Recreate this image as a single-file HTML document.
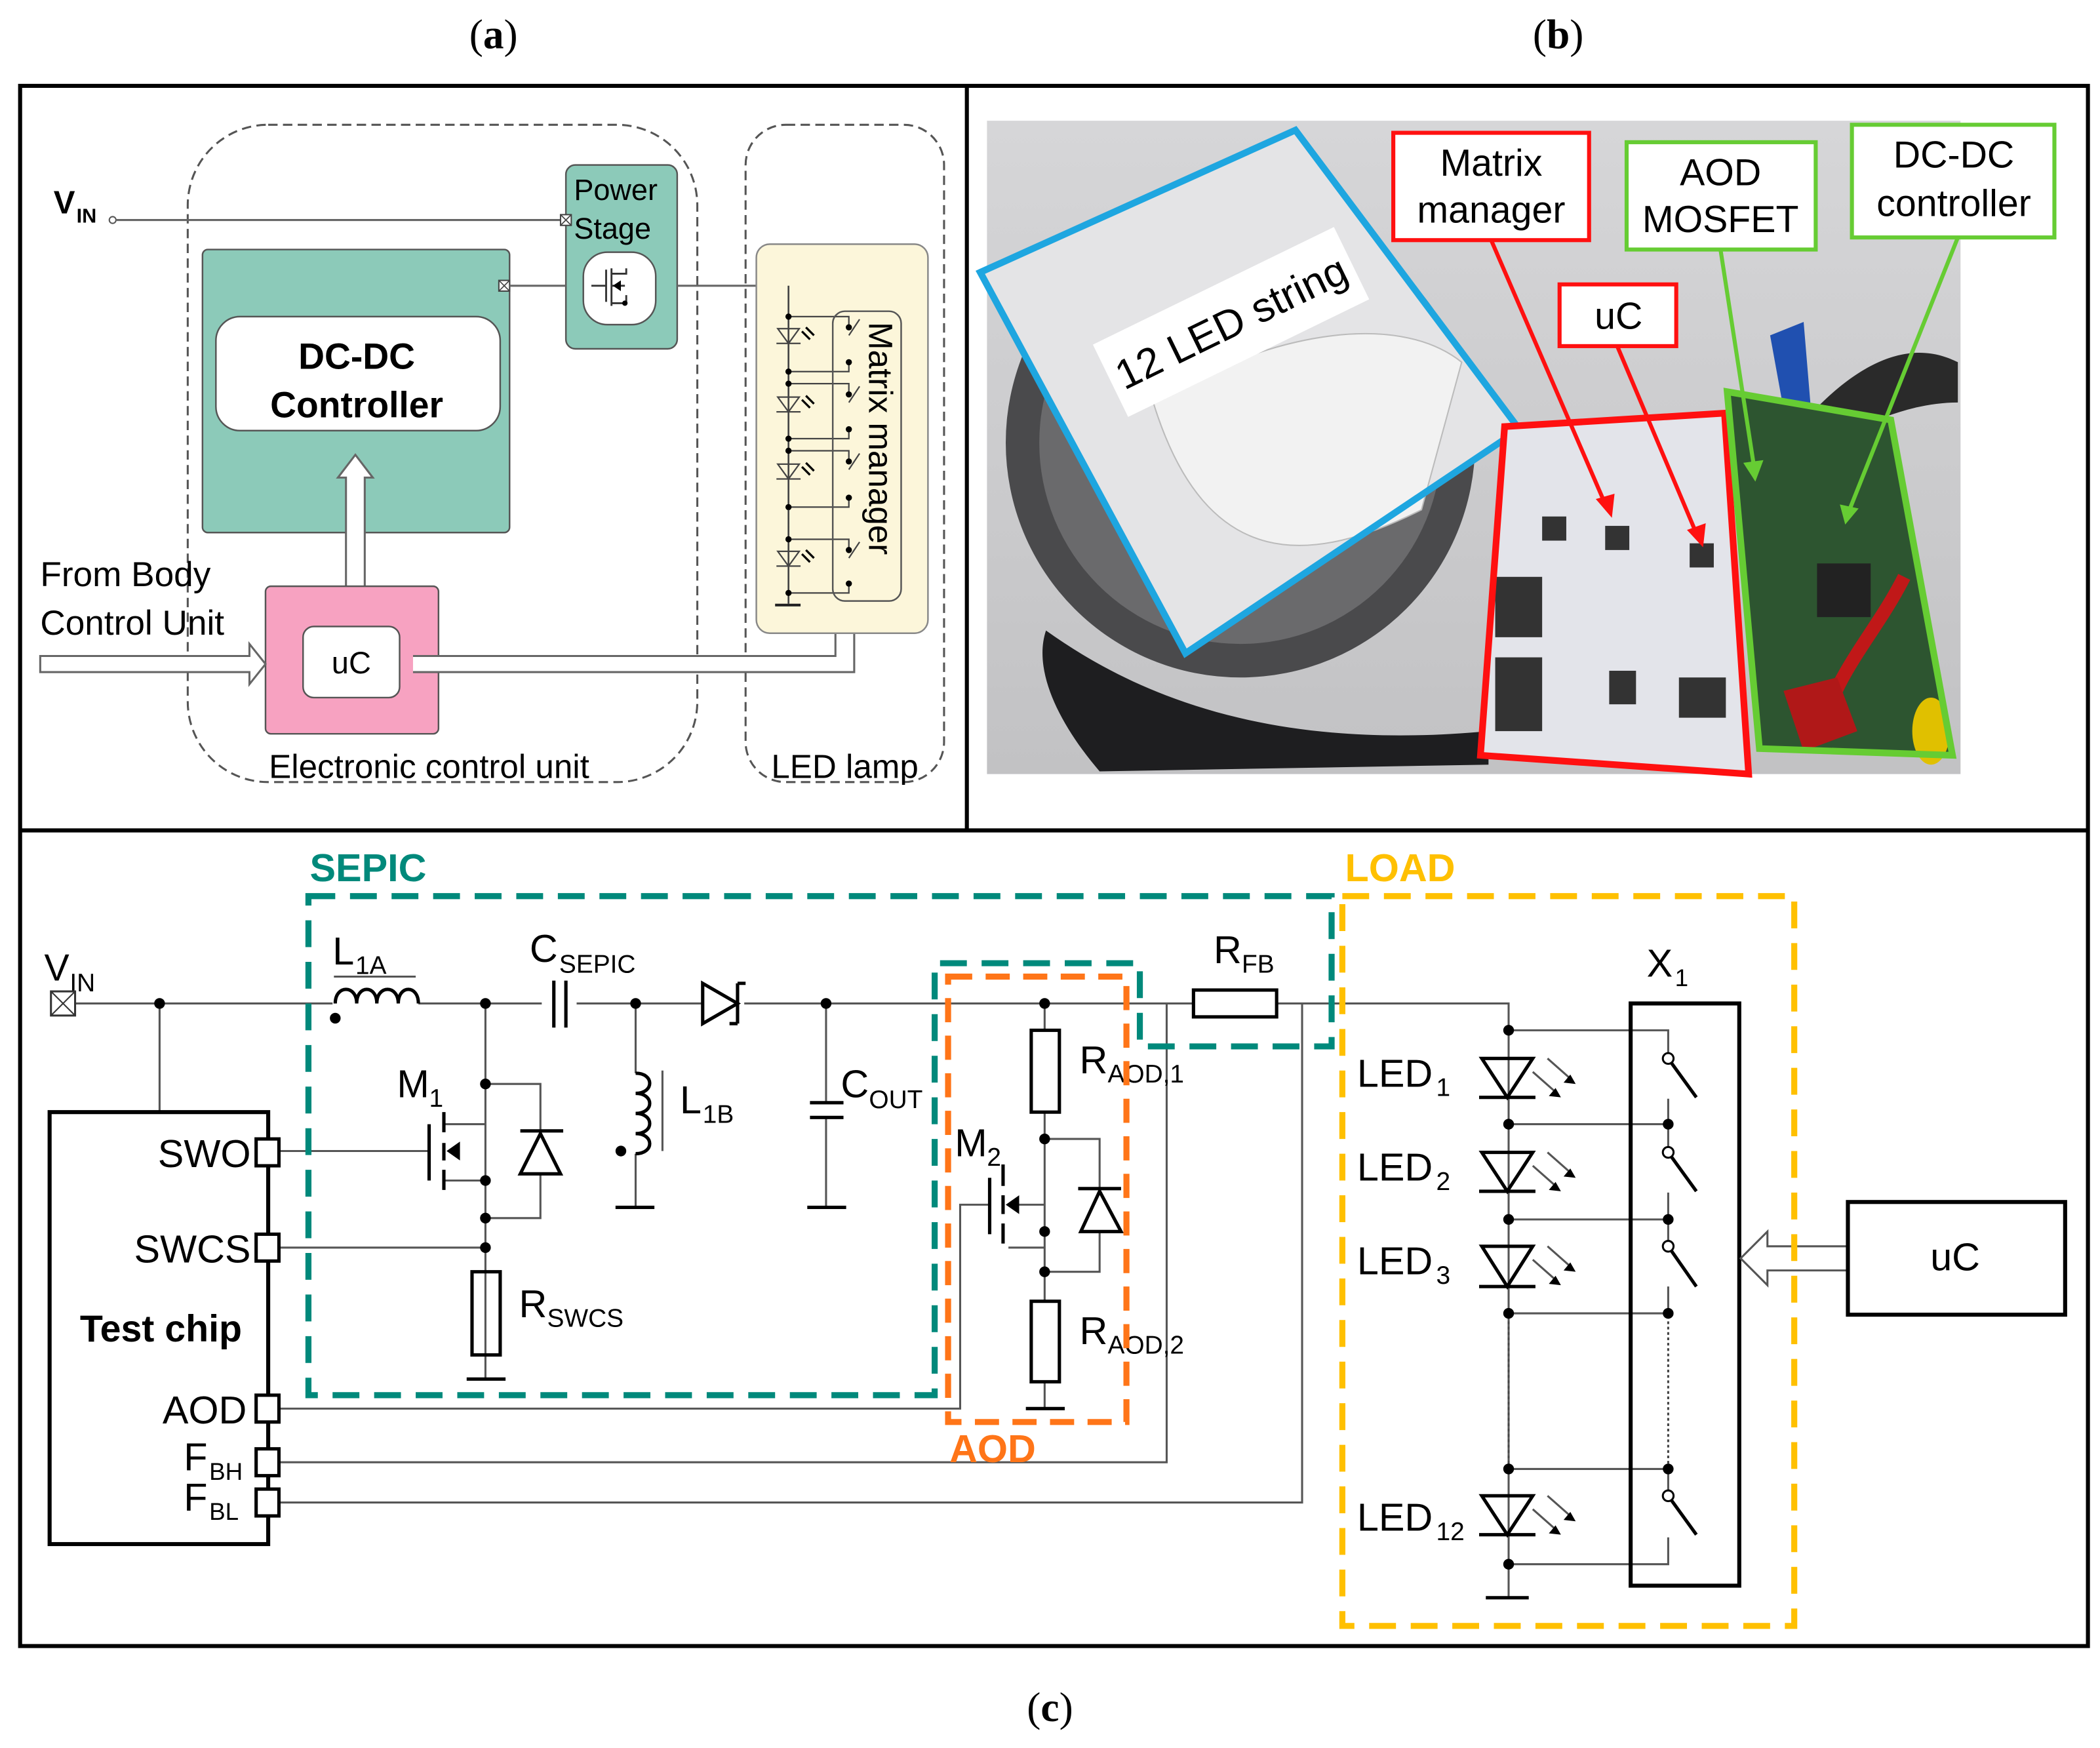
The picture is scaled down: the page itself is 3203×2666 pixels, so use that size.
<!DOCTYPE html>
<html><head><meta charset="utf-8">
<style>
html,body{margin:0;padding:0;background:#fff;}
svg{display:block;}
text{font-family:"Liberation Sans",sans-serif;}
.serif{font-family:"Liberation Serif",serif;}
</style></head>
<body>
<svg width="3203" height="2666" viewBox="0 0 1566 1303" preserveAspectRatio="none" xmlns="http://www.w3.org/2000/svg">
<defs>
<linearGradient id="bg" x1="0" y1="0" x2="0" y2="1"><stop offset="0" stop-color="#d6d6d8"/><stop offset="1" stop-color="#c2c2c4"/></linearGradient>
</defs>
<rect width="1566" height="1303" fill="#fff"/>
<text class="serif" x="368" y="36" font-size="31" text-anchor="middle">(<tspan font-weight="bold">a</tspan>)</text>
<text class="serif" x="1162" y="36" font-size="31" text-anchor="middle">(<tspan font-weight="bold">b</tspan>)</text>
<text class="serif" x="783" y="1283" font-size="31" text-anchor="middle">(<tspan font-weight="bold">c</tspan>)</text>
<rect x="15" y="64" width="1542" height="1163" fill="none" stroke="#000" stroke-width="3"/>
<line x1="15" y1="619" x2="1557" y2="619" stroke="#000" stroke-width="3"/>
<line x1="721" y1="64" x2="721" y2="619" stroke="#000" stroke-width="3"/>

<!-- ===== Panel (a) ===== -->
<rect x="140" y="93" width="380" height="490" rx="60" fill="none" stroke="#555" stroke-width="1.5" stroke-dasharray="7,4"/>
<rect x="556" y="93" width="148" height="490" rx="30" fill="none" stroke="#555" stroke-width="1.5" stroke-dasharray="7,4"/>
<text x="40" y="159" font-size="24" font-weight="bold">V</text>
<text x="57" y="166" font-size="15" font-weight="bold">IN</text>
<circle cx="84" cy="164" r="2.5" fill="#fff" stroke="#555"/>
<line x1="87" y1="164" x2="420" y2="164" stroke="#666" stroke-width="1.5"/>
<rect x="422" y="123" width="83" height="137" rx="7" fill="#8ccab9" stroke="#555" stroke-width="1.2"/>
<rect x="418" y="160" width="8" height="8" fill="#fff" stroke="#444"/>
<path d="M418,160l8,8M426,160l-8,8" stroke="#444" stroke-width="0.8"/>
<text x="428" y="149" font-size="22">Power</text>
<text x="428" y="178" font-size="22">Stage</text>
<rect x="435" y="188" width="54" height="54" rx="18" fill="#fff" stroke="#555" stroke-width="1.2"/>
<path d="M441,213h11M452,201v24M456,200v28M456,204h11v-4M456,213h10M456,226h11v-6" fill="none" stroke="#333" stroke-width="1.4"/>
<path d="M457,213l6,-4v8z" fill="#000"/>
<circle cx="466" cy="226" r="2" fill="#000"/>
<rect x="151" y="186" width="229" height="211" rx="4" fill="#8ccab9" stroke="#555" stroke-width="1.2"/>
<rect x="372" y="209" width="8" height="8" fill="#fff" stroke="#444"/>
<path d="M372,209l8,8M380,209l-8,8" stroke="#444" stroke-width="0.8"/>
<line x1="380" y1="213" x2="422" y2="213" stroke="#666" stroke-width="1.5"/>
<rect x="161" y="236" width="212" height="85" rx="18" fill="#fff" stroke="#555" stroke-width="1.2"/>
<text x="266" y="275" font-size="27" font-weight="bold" text-anchor="middle">DC-DC</text>
<text x="266" y="311" font-size="27" font-weight="bold" text-anchor="middle">Controller</text>
<line x1="505" y1="213" x2="588" y2="213" stroke="#666" stroke-width="1.5"/>
<path d="M258,437V356H252L265,339L278,356H272V437" fill="#fff" stroke="#666" stroke-width="1.5"/>
<rect x="198" y="437" width="129" height="110" rx="4" fill="#f7a2c1" stroke="#555" stroke-width="1.2"/>
<rect x="226" y="467" width="72" height="53" rx="8" fill="#fff" stroke="#555" stroke-width="1.2"/>
<text x="262" y="502" font-size="23" text-anchor="middle">uC</text>
<text x="30" y="437" font-size="26">From Body</text>
<text x="30" y="473" font-size="26">Control Unit</text>
<path d="M30,489H186V480L198,495L186,510V501H30Z" fill="#fff" stroke="#666" stroke-width="1.5"/>
<path d="M308,489H623V465H617L630,453L643,465H637V501H308" fill="#fff" stroke="#666" stroke-width="1.5"/>
<rect x="564" y="182" width="128" height="290" rx="10" fill="#fcf6da" stroke="#888" stroke-width="1.2"/>
<line x1="588" y1="213" x2="588" y2="450" stroke="#444" stroke-width="1.3"/>
<line x1="578" y1="451" x2="597" y2="451" stroke="#222" stroke-width="2"/>
<g stroke="#444" stroke-width="1.1" fill="none">
<path d="M580,245h16l-8,11z M579,256h18"/><path d="M580,296h16l-8,11z M579,307h18"/><path d="M580,346h16l-8,11z M579,357h18"/><path d="M580,411h16l-8,11z M579,422h18"/>
<path d="M598,247l6,6M601,244l6,6M598,298l6,6M601,295l6,6M598,348l6,6M601,345l6,6M598,413l6,6M601,410l6,6" stroke-width="1.6" stroke="#000"/>
<path d="M588,236H633v8M588,277H633v-7M588,286H633v8M588,327H633v-7M588,336H633v8M588,378H633v-7M588,402H633v8M588,442H633v-7"/>
<path d="M633,250l8,-12M633,300l8,-12M633,350l8,-12M633,416l8,-12"/>
</g>
<g fill="#000"><circle cx="588" cy="236" r="2.3"/><circle cx="588" cy="277" r="2.3"/><circle cx="588" cy="286" r="2.3"/><circle cx="588" cy="327" r="2.3"/><circle cx="588" cy="336" r="2.3"/><circle cx="588" cy="378" r="2.3"/><circle cx="588" cy="402" r="2.3"/><circle cx="588" cy="442" r="2.3"/>
<circle cx="633" cy="244" r="2.3"/><circle cx="633" cy="270" r="2.3"/><circle cx="633" cy="294" r="2.3"/><circle cx="633" cy="320" r="2.3"/><circle cx="633" cy="344" r="2.3"/><circle cx="633" cy="371" r="2.3"/><circle cx="633" cy="410" r="2.3"/><circle cx="633" cy="435" r="2.3"/></g>
<line x1="588" y1="380" x2="588" y2="400" stroke="#444" stroke-dasharray="1.5,1.5"/>
<rect x="621" y="232" width="51" height="216" rx="9" fill="none" stroke="#555" stroke-width="1.2"/>
<text transform="translate(648,240) rotate(90)" font-size="25">Matrix manager</text>
<text x="320" y="580" font-size="25" text-anchor="middle">Electronic control unit</text>
<text x="630" y="580" font-size="25" text-anchor="middle">LED lamp</text>

<!-- ===== Panel (b) photo ===== -->
<rect x="736" y="90" width="726" height="487" fill="url(#bg)"/>
<ellipse cx="925" cy="330" rx="175" ry="175" fill="#4a4a4c"/>
<ellipse cx="925" cy="330" rx="150" ry="150" fill="#6a6a6c"/>
<path d="M780,470C850,520 950,560 1110,545L1110,570L820,575C790,540 770,500 780,470Z" fill="#1e1e20"/>
<path d="M800,200C850,140 920,120 980,150" stroke="#e06020" stroke-width="8" fill="none"/>
<polygon points="731,203 966,97 1133,320 884,487" fill="#e4e4e6"/>
<path d="M860,300C940,250 1040,230 1090,270L1060,380C980,420 900,430 860,300Z" fill="#f2f2f2" stroke="#bbb"/>
<polygon points="731,203 966,97 1133,320 884,487" fill="none" stroke="#1ea6e0" stroke-width="5"/>
<g transform="translate(918,240) rotate(-26)"><rect x="-100" y="-30" width="200" height="60" fill="#fff"/><text x="0" y="11" font-size="31" text-anchor="middle">12 LED string</text></g>
<path d="M1340,320C1400,250 1440,260 1460,270L1460,300C1420,300 1380,320 1350,340Z" fill="#2a2a2a"/>
<path d="M1320,250L1345,240L1350,300L1330,305Z" fill="#2050b0"/>
<polygon points="1122,318 1286,308 1304,577 1104,563" fill="#e3e4ea"/>
<rect x="1115" y="430" width="35" height="45" fill="#333"/><rect x="1115" y="490" width="35" height="55" fill="#333"/>
<rect x="1150" y="385" width="18" height="18" fill="#333"/><rect x="1197" y="392" width="18" height="18" fill="#333"/><rect x="1260" y="405" width="18" height="18" fill="#333"/>
<rect x="1200" y="500" width="20" height="25" fill="#333"/><rect x="1252" y="505" width="35" height="30" fill="#333"/>
<polygon points="1122,318 1286,308 1304,577 1104,563" fill="none" stroke="#ff1010" stroke-width="5"/>
<polygon points="1288,292 1410,313 1456,563 1312,558" fill="#2d5530"/>
<rect x="1355" y="420" width="40" height="40" fill="#222"/>
<path d="M1420,430C1400,470 1370,500 1360,540" stroke="#c01818" stroke-width="10" fill="none"/>
<polygon points="1330,515 1370,505 1385,545 1345,560" fill="#b01818"/>
<ellipse cx="1440" cy="545" rx="14" ry="25" fill="#e0c000"/>
<polygon points="1288,292 1410,313 1456,563 1312,558" fill="none" stroke="#66cc33" stroke-width="5"/>
<rect x="1039" y="99" width="146" height="80" fill="#fff" stroke="#ff1010" stroke-width="3"/>
<text x="1112" y="131" font-size="28" text-anchor="middle">Matrix</text>
<text x="1112" y="166" font-size="28" text-anchor="middle">manager</text>
<rect x="1213" y="106" width="141" height="80" fill="#fff" stroke="#66cc33" stroke-width="3"/>
<text x="1283" y="138" font-size="28" text-anchor="middle">AOD</text>
<text x="1283" y="173" font-size="28" text-anchor="middle">MOSFET</text>
<rect x="1381" y="93" width="151" height="84" fill="#fff" stroke="#66cc33" stroke-width="3"/>
<text x="1457" y="125" font-size="28" text-anchor="middle">DC-DC</text>
<text x="1457" y="161" font-size="28" text-anchor="middle">controller</text>
<rect x="1163" y="212" width="87" height="46" fill="#fff" stroke="#ff1010" stroke-width="3"/>
<text x="1207" y="245" font-size="28" text-anchor="middle">uC</text>
<g stroke-width="3" fill="none">
<path d="M1112,179L1198,378" stroke="#ff1010"/><path d="M1206,258L1266,400" stroke="#ff1010"/>
<path d="M1283,186L1308,348" stroke="#66cc33"/><path d="M1460,177L1378,383" stroke="#66cc33"/>
</g>
<path d="M1190,372l12,14l2,-18z" fill="#ff1010"/><path d="M1258,395l12,13l2,-18z" fill="#ff1010"/>
<path d="M1300,345l9,14l6,-16z" fill="#66cc33"/><path d="M1372,376l4,15l10,-12z" fill="#66cc33"/>

<!-- ===== Panel (c) ===== -->
<g stroke="#555" stroke-width="1.5" fill="none">
<path d="M56,748H248M312,748H404M430,748H524M555,748H890M952,748H1125V1190"/>
<path d="M119,748V829"/>
<path d="M362,748V838H331M362,808H403V843M403,875V908H362M362,838V1028"/>
<path d="M331,880H362"/>
<path d="M208,858H320"/><path d="M208,930H362"/>
<path d="M474,748V800M474,860V900"/>
<path d="M616,748V822M616,833V900"/>
<path d="M779,748V768M779,829V930H752M779,849H820V886M820,918V948H779M779,918V970M779,1030V1050M752,898H779"/>
<path d="M208,1050H716V898H738"/>
<path d="M208,1090H870V748M208,1120H971V748"/>
<path d="M1125,768H1244V789M1244,819V838M1125,838H1244V859M1244,889V909M1125,909H1244V929M1244,959V979M1125,979H1244M1125,1095H1244V1115M1244,1146V1166H1125"/>
</g>
<g stroke="#444" stroke-width="1.5" stroke-dasharray="2,2"><path d="M1125,981V1093M1244,981V1093"/></g>
<text x="33" y="731" font-size="28">V</text><text x="52" y="739" font-size="19">IN</text>
<rect x="38" y="739" width="18" height="18" fill="#fff" stroke="#333" stroke-width="1.5"/>
<path d="M38,739l18,18M56,739l-18,18" stroke="#333" stroke-width="1"/>
<rect x="37" y="829" width="163" height="322" fill="#fff" stroke="#000" stroke-width="3"/>
<g fill="#fff" stroke="#000" stroke-width="2.5">
<rect x="191" y="849" width="17" height="20"/><rect x="191" y="920" width="17" height="20"/><rect x="191" y="1040" width="17" height="20"/><rect x="191" y="1080" width="17" height="20"/><rect x="191" y="1110" width="17" height="20"/></g>
<g font-size="29" text-anchor="end"><text x="187" y="870">SWO</text><text x="187" y="941">SWCS</text><text x="184" y="1061">AOD</text></g>
<text x="137" y="1096" font-size="29">F</text><text x="156" y="1103" font-size="18">BH</text>
<text x="137" y="1126" font-size="29">F</text><text x="156" y="1133" font-size="18">BL</text>
<text x="120" y="1000" font-size="28" font-weight="bold" text-anchor="middle">Test chip</text>
<g stroke="#000" stroke-width="2.5" fill="none">
<path d="M250,748c0,-14 16,-14 16,0c0,-14 15,-14 15,0c0,-14 16,-14 16,0c0,-14 15,-14 15,0"/>
<path d="M413,731V766M422,731V766"/>
<path d="M474,800c14,0 14,15 0,15c14,0 14,15 0,15c14,0 14,15 0,15c14,0 14,15 0,15"/>
<path d="M459,900H488M604,822H629M604,833H629M602,900H631"/>
<path d="M524,733V763L550,748Z M550,733V763M550,733h6M550,763h-6"/>
<path d="M320,838V880M331,829V844M331,852V865M331,872V887"/>
<path d="M388,843H420M388,875H418L403,845Z"/>
<rect x="352" y="948" width="21" height="62"/>
<path d="M348,1028H377"/>
<rect x="769" y="768" width="21" height="61"/>
<rect x="769" y="970" width="21" height="60"/>
<path d="M765,1050H794"/>
<path d="M738,878V920M748,868V884M748,891V905M748,912V927"/>
<path d="M804,886H836M806,918H836L820,888Z"/>
<rect x="890" y="738" width="62" height="20"/>
<path d="M1105,789H1143L1124,818ZM1103,818H1145M1105,859H1143L1124,888ZM1103,888H1145M1105,929H1143L1124,959ZM1103,959H1145M1105,1115H1143L1124,1144ZM1103,1144H1145M1108,1191H1140"/>
<path d="M1244,789L1265,818M1244,859L1265,888M1244,929L1265,959M1244,1115L1265,1144"/>
</g>
<path d="M333,858l10,-7v14z M750,898l10,-7v14z" fill="#000"/>
<g stroke="#555" stroke-width="1.5"><path d="M249,728H310M494,798V858"/>
<path d="M1143,799L1160,814M1154,789L1171,804"/>
<path d="M1143,869L1160,884M1154,859L1171,874"/>
<path d="M1143,939L1160,954M1154,929L1171,944"/>
<path d="M1143,1125L1160,1140M1154,1115L1171,1130"/></g>
<path d="M1164,818l-9,-1l5,-6z M1175,808l-9,-1l5,-6z M1164,888l-9,-1l5,-6z M1175,878l-9,-1l5,-6z M1164,958l-9,-1l5,-6z M1175,948l-9,-1l5,-6z M1164,1144l-9,-1l5,-6z M1175,1134l-9,-1l5,-6z" fill="#000"/>
<g fill="#000">
<circle cx="119" cy="748" r="4"/><circle cx="250" cy="759" r="4"/><circle cx="362" cy="748" r="4"/><circle cx="474" cy="748" r="4"/><circle cx="616" cy="748" r="4"/><circle cx="463" cy="858" r="4"/>
<circle cx="362" cy="808" r="4"/><circle cx="362" cy="880" r="4"/><circle cx="362" cy="908" r="4"/><circle cx="362" cy="930" r="4"/>
<circle cx="779" cy="748" r="4"/><circle cx="779" cy="849" r="4"/><circle cx="779" cy="918" r="4"/><circle cx="779" cy="948" r="4"/>
<circle cx="1125" cy="768" r="4"/><circle cx="1125" cy="838" r="4"/><circle cx="1125" cy="909" r="4"/><circle cx="1125" cy="979" r="4"/><circle cx="1125" cy="1095" r="4"/><circle cx="1125" cy="1166" r="4"/>
<circle cx="1244" cy="838" r="4"/><circle cx="1244" cy="909" r="4"/><circle cx="1244" cy="979" r="4"/><circle cx="1244" cy="1095" r="4"/></g>
<g fill="#fff" stroke="#000" stroke-width="1.5"><circle cx="1244" cy="789" r="4"/><circle cx="1244" cy="859" r="4"/><circle cx="1244" cy="929" r="4"/><circle cx="1244" cy="1115" r="4"/></g>
<rect x="1216" y="748" width="81" height="434" fill="none" stroke="#000" stroke-width="3"/>
<text x="1228" y="728" font-size="29">X</text><text x="1249" y="735" font-size="18">1</text>
<path d="M1378,929H1318V918L1298,938L1318,958V947H1378" fill="#fff" stroke="#555" stroke-width="1.5"/>
<rect x="1378" y="896" width="162" height="84" fill="#fff" stroke="#000" stroke-width="3"/>
<text x="1458" y="947" font-size="29" text-anchor="middle">uC</text>
<g font-size="29">
<text x="248" y="719">L</text><text x="265" y="726" font-size="19">1A</text>
<text x="395" y="717">C</text><text x="417" y="725" font-size="19">SEPIC</text>
<text x="296" y="818">M</text><text x="320" y="825" font-size="19">1</text>
<text x="507" y="830">L</text><text x="524" y="837" font-size="19">1B</text>
<text x="627" y="818">C</text><text x="648" y="826" font-size="19">OUT</text>
<text x="387" y="982">R</text><text x="408" y="989" font-size="19">SWCS</text>
<text x="712" y="862">M</text><text x="736" y="869" font-size="19">2</text>
<text x="805" y="800">R</text><text x="826" y="807" font-size="19">AOD,1</text>
<text x="805" y="1002">R</text><text x="826" y="1009" font-size="19">AOD,2</text>
<text x="905" y="718">R</text><text x="926" y="725" font-size="19">FB</text>
<text x="1012" y="810">LED</text><text x="1071" y="817" font-size="19">1</text>
<text x="1012" y="880">LED</text><text x="1071" y="887" font-size="19">2</text>
<text x="1012" y="950">LED</text><text x="1071" y="957" font-size="19">3</text>
<text x="1012" y="1141">LED</text><text x="1071" y="1148" font-size="19">12</text>
</g>
<path d="M230,668H993V780H850V718H697V1040H230Z" fill="none" stroke="#00897b" stroke-width="4.5" stroke-dasharray="20,11"/>
<text x="231" y="657" font-size="29" font-weight="bold" fill="#00897b">SEPIC</text>
<rect x="707" y="728" width="133" height="332" fill="none" stroke="#ff7518" stroke-width="4.5" stroke-dasharray="18,10"/>
<text x="708" y="1090" font-size="29" font-weight="bold" fill="#ff7518">AOD</text>
<rect x="1001" y="668" width="337" height="544" fill="none" stroke="#ffc000" stroke-width="4.5" stroke-dasharray="20,11"/>
<text x="1003" y="657" font-size="29" font-weight="bold" fill="#ffc000">LOAD</text>
</svg>
</body></html>
